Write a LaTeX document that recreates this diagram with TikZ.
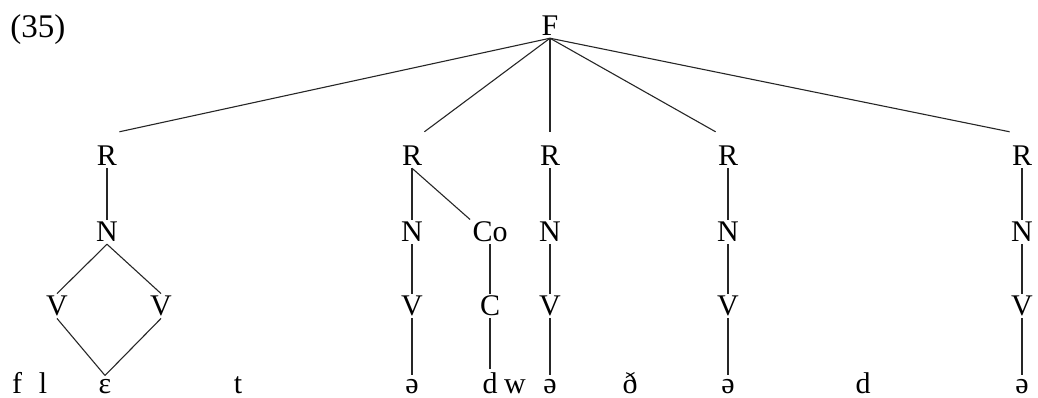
\documentclass[tikz,border=0pt]{standalone}
\usepackage{fontspec}
\setmainfont{Liberation Serif}
\begin{document}
\begin{tikzpicture}[x=0.5pt,y=-0.5pt,
  font=\fontsize{15}{17}\selectfont,
  lab/.style={inner sep=1pt},
  seg/.style={inner sep=1.5pt, anchor=base},
  edge/.style={line width=0.55pt, draw=black!85},
  top/.style={yshift=6pt}]
\useasboundingbox (0,0) rectangle (1038,397);

% example number
\node[anchor=base west, inner sep=0, font=\fontsize{16.5}{18}\selectfont] (exno) at (10,37) {(35)};

% foot
\node[lab] (F) at (550,26) {F};

% rhymes
\node[lab] (R1) at (107,156) {R};
\node[lab] (R2) at (412,156) {R};
\node[lab] (R3) at (550,156) {R};
\node[lab] (R4) at (728,156) {R};
\node[lab] (R5) at (1022,156) {R};

% nuclei and coda
\node[lab] (N1) at (107,232) {N};
\node[lab] (N2) at (412,232) {N};
\node[lab] (Co) at (490,232) {Co};
\node[lab] (N3) at (550,232) {N};
\node[lab] (N4) at (728,232) {N};
\node[lab] (N5) at (1022,232) {N};

% skeletal slots
\node[lab] (V1a) at (57,306) {V};
\node[lab] (V1b) at (161,306) {V};
\node[lab] (V2) at (412,306) {V};
\node[lab] (C) at (490,306) {C};
\node[lab] (V3) at (550,306) {V};
\node[lab] (V4) at (728,306) {V};
\node[lab] (V5) at (1022,306) {V};

% segmental string
\node[seg] (s1) at (17,393) {f};
\node[seg] (s2) at (43,393) {l};
\node[seg] (s3) at (105,393) {ɛ};
\node[seg] (s4) at (238,393) {t};
\node[seg] (s5) at (412,393) {ə};
\node[seg] (s6) at (490,393) {d};
\node[seg] (s7) at (515,393) {w};
\node[seg] (s8) at (550,393) {ə};
\node[seg] (s9) at (630,393) {ð};
\node[seg] (s10) at (728,393) {ə};
\node[seg] (s11) at (863,393) {d};
\node[seg] (s12) at (1022,393) {ə};

% foot to rhymes
\draw[edge] (F.south) -- ([top]R1.north east);
\draw[edge] (F.south) -- ([top]R2.north east);
\draw[edge] (F.south) -- ([top]R3.north);
\draw[edge] (F.south) -- ([top]R4.north west);
\draw[edge] (F.south) -- ([top]R5.north west);

% first rhyme: long vowel
\draw[edge] (R1.south) -- (N1.north);
\draw[edge] (N1.south) -- (V1a.north);
\draw[edge] (N1.south) -- (V1b.north);
\draw[edge] (V1a.south) -- (s3.north);
\draw[edge] (V1b.south) -- (s3.north);

% second rhyme with coda
\draw[edge] (R2.south) -- (N2.north);
\draw[edge] (N2.south) -- (V2.north);
\draw[edge] (V2.south) -- (s5.north);
\draw[edge] (R2.south) -- (Co.north west);
\draw[edge] (Co.south) -- (C.north);
\draw[edge] (C.south) -- (s6.north);

% remaining rhymes
\foreach \i/\s in {3/s8,4/s10,5/s12}{
  \draw[edge] (R\i.south) -- (N\i.north);
  \draw[edge] (N\i.south) -- (V\i.north);
  \draw[edge] (V\i.south) -- (\s.north);
}
\end{tikzpicture}
\end{document}
